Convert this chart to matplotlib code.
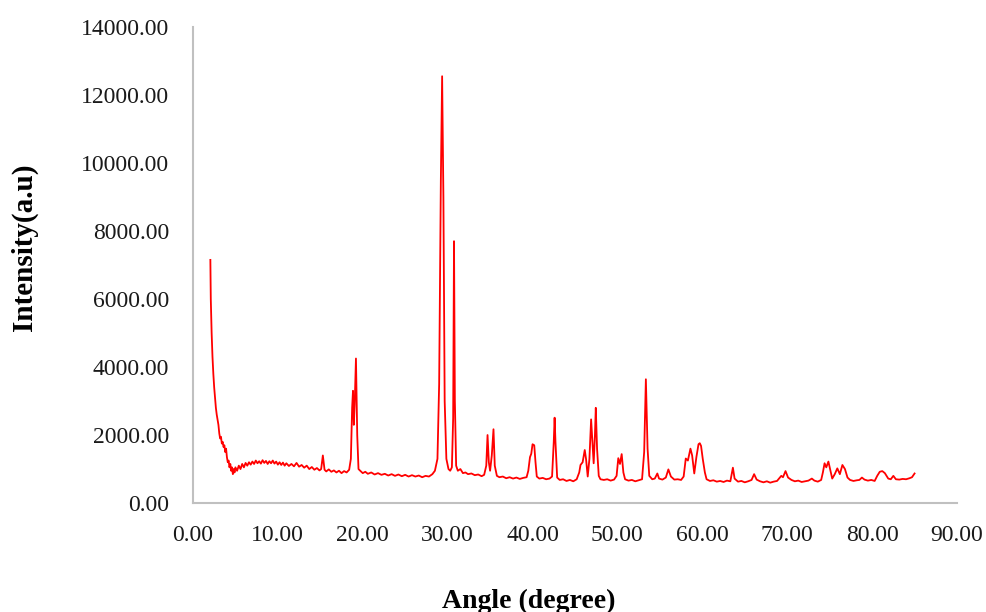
import numpy as np
import matplotlib.pyplot as plt
from matplotlib.ticker import FormatStrFormatter

# XRD pattern (angle in degrees, intensity in a.u.)
angle = [2.05, 2.1, 2.2, 2.3, 2.4, 2.5, 2.6, 2.7, 2.8, 2.9, 3.0, 3.1, 3.2, 3.3, 3.4, 3.5,
         3.6, 3.7, 3.8, 3.9, 4.0, 4.1, 4.2, 4.3, 4.4, 4.5, 4.6, 4.7, 4.8, 4.9, 5.0, 5.2,
         5.4, 5.6, 5.8, 6.0, 6.2, 6.4, 6.6, 6.8, 7.0, 7.2, 7.4, 7.6, 7.8, 8.0, 8.2, 8.4,
         8.6, 8.8, 9.0, 9.2, 9.4, 9.6, 9.8, 10.0, 10.2, 10.4, 10.6, 10.8, 11.0, 11.3, 11.6,
         11.9, 12.2, 12.5, 12.8, 13.1, 13.4, 13.7, 14.0, 14.3, 14.6, 14.9, 15.1, 15.3, 15.5,
         15.7, 16.0, 16.3, 16.6, 16.9, 17.2, 17.5, 17.8, 18.1, 18.4, 18.6, 18.75, 18.85,
         18.95, 19.05, 19.2, 19.35, 19.5, 19.7, 20.0, 20.3, 20.6, 21.0, 21.4, 21.8, 22.2,
         22.6, 23.0, 23.4, 23.8, 24.2, 24.6, 25.0, 25.4, 25.8, 26.2, 26.6, 27.0, 27.4, 27.8,
         28.2, 28.5, 28.8, 29.0, 29.2, 29.35, 29.5, 29.65, 29.85, 30.1, 30.3, 30.5, 30.65,
         30.75, 30.85, 31.0, 31.2, 31.5, 31.8, 32.1, 32.4, 32.8, 33.2, 33.6, 34.0, 34.3,
         34.55, 34.7, 34.85, 35.0, 35.2, 35.4, 35.55, 35.8, 36.1, 36.5, 36.9, 37.3, 37.7,
         38.1, 38.5, 38.9, 39.3, 39.5, 39.7, 39.85, 40.0, 40.2, 40.35, 40.5, 40.8, 41.2,
         41.6, 42.0, 42.3, 42.5, 42.6, 42.7, 42.9, 43.2, 43.6, 44.0, 44.4, 44.8, 45.2, 45.5,
         45.65, 45.9, 46.15, 46.3, 46.5, 46.7, 46.9, 47.05, 47.2, 47.35, 47.45, 47.6, 47.8,
         48.0, 48.4, 48.8, 49.2, 49.6, 49.9, 50.1, 50.3, 50.5, 50.7, 50.9, 51.3, 51.7, 52.1,
         52.5, 52.9, 53.15, 53.35, 53.55, 53.75, 54.1, 54.4, 54.7, 54.9, 55.3, 55.7, 56.0,
         56.3, 56.7, 57.1, 57.5, 57.8, 58.05, 58.3, 58.6, 58.8, 59.05, 59.3, 59.55, 59.7,
         59.85, 60.05, 60.3, 60.5, 60.9, 61.3, 61.7, 62.1, 62.5, 62.9, 63.3, 63.6, 63.8,
         64.2, 64.6, 65.0, 65.4, 65.8, 66.1, 66.4, 66.8, 67.2, 67.6, 68.0, 68.4, 68.8, 69.3,
         69.5, 69.8, 70.1, 70.5, 70.9, 71.3, 71.7, 72.1, 72.5, 72.9, 73.2, 73.6, 74.0, 74.2,
         74.4, 74.6, 74.85, 75.05, 75.3, 75.6, 75.9, 76.2, 76.5, 76.8, 77.1, 77.4, 77.8,
         78.2, 78.5, 78.8, 79.1, 79.5, 79.9, 80.3, 80.6, 80.9, 81.2, 81.5, 81.9, 82.2, 82.5,
         82.8, 83.2, 83.6, 84.0, 84.4, 84.7, 85.0]
intensity = [7150, 6000, 5000, 4300, 3800, 3400, 3100, 2800, 2600, 2450, 2300, 2050, 1900,
             1950, 1750, 1800, 1650, 1700, 1500, 1600, 1350, 1200, 1250, 1050, 1150, 950,
             1050, 850, 1000, 900, 1050, 950, 1100, 1000, 1150, 1050, 1180, 1100, 1200, 1130,
             1220, 1150, 1250, 1170, 1230, 1160, 1260, 1180, 1240, 1150, 1230, 1170, 1250,
             1160, 1220, 1130, 1200, 1120, 1190, 1100, 1170, 1090, 1150, 1080, 1180, 1070,
             1120, 1040, 1100, 1000, 1060, 980, 1030, 960, 1000, 1400, 980, 930, 990, 920,
             960, 900, 950, 880, 940, 900, 980, 1300, 2800, 3300, 2300, 2900, 4250, 2000,
             1000, 950, 880, 920, 860, 900, 840, 880, 830, 860, 810, 850, 800, 840, 790, 830,
             780, 820, 780, 810, 760, 800, 780, 850, 950, 1300, 3500, 9500, 12550, 9000, 3000,
             1300, 1000, 950, 1050, 2500, 7700, 3000, 1100, 950, 1000, 880, 900, 850, 870,
             820, 840, 790, 830, 1100, 2000, 1200, 950, 1400, 2170, 1100, 800, 760, 780, 730,
             760, 720, 750, 710, 740, 760, 950, 1350, 1450, 1730, 1700, 1200, 780, 720, 740,
             700, 720, 780, 1800, 2510, 1800, 750, 680, 700, 650, 680, 640, 700, 900, 1120,
             1200, 1560, 1300, 780, 1300, 2460, 1800, 1170, 2000, 2800, 1600, 800, 700, 680,
             700, 660, 690, 800, 1320, 1150, 1440, 900, 700, 660, 680, 640, 670, 700, 1500,
             3640, 1600, 800, 700, 720, 870, 720, 690, 750, 990, 780, 690, 700, 680, 780, 1310,
             1250, 1600, 1400, 870, 1350, 1730, 1760, 1680, 1300, 900, 700, 650, 670, 630,
             650, 620, 660, 640, 1040, 720, 630, 650, 610, 640, 680, 850, 690, 640, 610, 640,
             600, 630, 650, 800, 760, 940, 750, 680, 640, 660, 620, 640, 660, 720, 660, 630,
             680, 900, 1170, 1050, 1220, 1000, 720, 850, 1020, 850, 1120, 1000, 750, 680, 650,
             670, 680, 750, 690, 660, 680, 650, 800, 920, 940, 880, 720, 700, 800, 700, 690,
             710, 700, 730, 760, 870]

x_ticks = [0, 10, 20, 30, 40, 50, 60, 70, 80, 90]
y_ticks = [0, 2000, 4000, 6000, 8000, 10000, 12000, 14000]

plt.rcParams['font.family'] = ['Liberation Serif', 'DejaVu Serif']

fig = plt.figure(figsize=(9.86, 6.12), dpi=100)
ax = fig.add_axes([0.1957, 0.178, 0.7749, 0.778])
ax.plot(angle, intensity, color='#ff0000', linewidth=1.3)

ax.set_xlim(0, 90)
ax.set_ylim(0, 14000)
ax.set_xticks(x_ticks)
ax.set_yticks(y_ticks)
ax.xaxis.set_major_formatter(FormatStrFormatter('%.2f'))
ax.yaxis.set_major_formatter(FormatStrFormatter('%.2f'))
ax.tick_params(length=0, labelsize=17, colors='#1a1a1a')
ax.tick_params(axis='y', pad=17)
ax.tick_params(axis='x', pad=16)

for s in ['top', 'right']:
    ax.spines[s].set_visible(False)
for s in ['left', 'bottom']:
    ax.spines[s].set_color('#c0c0c0')
    ax.spines[s].set_linewidth(1.5)

ax.set_xlabel('Angle (degree)', fontsize=20, fontweight='bold')
ax.set_ylabel('Intensity(a.u)', fontsize=21, fontweight='bold')
ax.xaxis.set_label_coords(0.44, -0.18)
ax.yaxis.set_label_coords(-0.203, 0.538)

fig.savefig('out.png', dpi=100)
